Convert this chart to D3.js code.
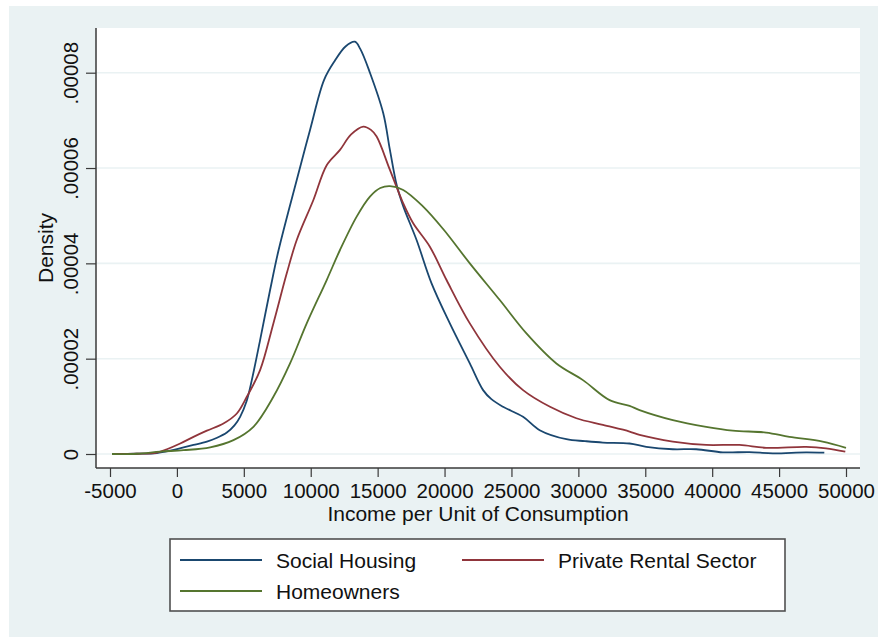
<!DOCTYPE html>
<html>
<head>
<meta charset="utf-8">
<script src="https://cdn.jsdelivr.net/npm/d3@7"></script>
<style>
  html, body { margin: 0; padding: 0; background: #ffffff; }
  svg { display: block; }
  text { font-family: "Liberation Sans", Arial, Helvetica, sans-serif; fill: #111; }
</style>
</head>
<body>
<svg id="chart" width="878" height="637"></svg>
<script>
// ---- Data (income per unit of consumption, kernel density) ----
const socialX = [-4850,-3000,-1500,-500,500,1239,2239,3000,3731,4300,4724,5200,5597,6216,6963,7600,8955,9948,11000,11800,12600,13300,13700,14425,15420,15918,16418,16910,17910,19030,20396,21888,22881,23500,24373,25866,27111,29104,30500,31836,33828,35075,37060,38806,40796,42783,44527,47015,48380];
const socialY = [0.0,0.05,0.2,0.7,1.4,1.9,2.6,3.4,4.5,6.0,7.8,11.0,15.5,23.9,34.4,42.8,57.5,68,78.5,82.5,85.5,86.5,85,80,71.5,63.8,56.5,52,44.9,35.8,27.4,19.0,13.4,11.5,9.9,7.8,5.0,3.1,2.7,2.4,2.2,1.5,1.0,1.0,0.35,0.4,0.15,0.35,0.27].map(v => v * 1e-6);

const privateX = [-4850,-3000,-1500,-746,246,1239,2239,3478,4478,5224,6216,7209,8209,8955,10199,11194,12187,13000,13930,14500,14925,15918,16910,17657,18903,20149,21888,24127,25866,27881,29851,31836,33828,34575,37060,39552,42040,44030,47015,48507,49948];
const privateY = [0.0,0.05,0.3,1.0,2.2,3.6,4.9,6.4,8.5,12.0,17.6,27.4,37.9,44.9,53.3,60.6,63.8,67,68.7,68,66.6,59.6,52.6,48.4,43.5,36.5,27.4,18.3,13.4,9.9,7.5,6.1,4.7,4.0,2.6,1.9,1.9,1.3,1.5,1.2,0.5].map(v => v * 1e-6);

const homeX = [-4850,-3000,-1246,493,2485,4224,5716,7209,8455,9701,11194,12187,13433,14425,15200,15918,16910,18403,19896,21888,24127,26119,28358,30343,32336,33828,34575,37060,39552,41537,44030,45769,48254,50000];
const homeY = [0.0,0.05,0.5,0.8,1.4,2.9,5.7,12.0,19.0,27.4,36.5,42.8,49.8,54.0,55.8,56.2,55.4,51.9,47.2,40.0,32.3,25.3,19.0,15.5,11.3,10.1,9.2,7.1,5.7,4.9,4.5,3.6,2.6,1.3].map(v => v * 1e-6);

const xTicks = [-5000,0,5000,10000,15000,20000,25000,30000,35000,40000,45000,50000];
const yTicks = [0,0.00002,0.00004,0.00006,0.00008];
const yTickLabels = ["0",".00002",".00004",".00006",".00008"];
const seriesNames = ["Social Housing","Private Rental Sector","Homeowners"];
const seriesColors = ["#1a476f","#90353b","#55752f"];
const xTitle = "Income per Unit of Consumption";
const yTitle = "Density";

// ---- Layout ----
const svg = d3.select("#chart");
const plot = { left: 96, right: 860, top: 28, bottom: 468 };

svg.append("rect").attr("x", 9).attr("y", 6).attr("width", 878 - 9).attr("height", 637 - 6)
  .attr("fill", "#eaf2f3");
svg.append("rect").attr("x", plot.left).attr("y", plot.top)
  .attr("width", plot.right - plot.left).attr("height", plot.bottom - plot.top)
  .attr("fill", "#ffffff");

const x = d3.scaleLinear().domain([-5000, 50000]).range([110, 846]);
const y = d3.scaleLinear().domain([0, 0.00008]).range([454, 72.7]);

// grid
svg.append("g").selectAll("line").data(yTicks).join("line")
  .attr("x1", plot.left).attr("x2", plot.right)
  .attr("y1", d => y(d)).attr("y2", d => y(d))
  .attr("stroke", "#eaf2f3").attr("stroke-width", 1.6);

// curves
const series = [
  { xs: socialX, ys: socialY },
  { xs: privateX, ys: privateY },
  { xs: homeX, ys: homeY }
];
const line = d3.line().x(d => x(d[0])).y(d => y(d[1])).curve(d3.curveCatmullRom.alpha(0.5));
series.forEach((s, i) => {
  const pts = s.xs.map((v, j) => [v, s.ys[j]]);
  svg.append("path").datum(pts).attr("d", line)
    .attr("fill", "none").attr("stroke", seriesColors[i])
    .attr("stroke-width", 1.8).attr("stroke-linejoin", "round");
});

// axes
const axisColor = "#3a3a3a";
const xAxis = svg.append("g").attr("transform", `translate(0,${plot.bottom})`)
  .call(d3.axisBottom(x).tickValues(xTicks).tickSize(9).tickPadding(4).tickFormat(d => String(d)));
xAxis.select(".domain").remove();
xAxis.append("line").attr("x1", plot.left).attr("x2", plot.right).attr("y1", 0).attr("y2", 0)
  .attr("stroke", axisColor).attr("stroke-width", 1.5);
xAxis.selectAll(".tick line").attr("stroke", axisColor).attr("stroke-width", 1.2);
xAxis.selectAll(".tick text").attr("font-size", "20.5px").attr("fill", "#111")
  .attr("font-family", "'Liberation Sans', Arial, sans-serif").attr("dy", null).attr("y", 30);

const yAxis = svg.append("g").attr("transform", `translate(${plot.left},0)`)
  .call(d3.axisLeft(y).tickValues(yTicks).tickSize(10).tickFormat((d, i) => yTickLabels[i]));
yAxis.select(".domain").remove();
yAxis.append("line").attr("x1", 0).attr("x2", 0).attr("y1", plot.top).attr("y2", plot.bottom)
  .attr("stroke", axisColor).attr("stroke-width", 1.5);
yAxis.selectAll(".tick line").attr("stroke", axisColor).attr("stroke-width", 1.2);
yAxis.selectAll(".tick text")
  .attr("font-size", "20.5px").attr("fill", "#111")
  .attr("font-family", "'Liberation Sans', Arial, sans-serif")
  .attr("x", null).attr("dy", null)
  .attr("text-anchor", "middle")
  .attr("transform", "translate(-18,0) rotate(-90)");

// titles
svg.append("text").attr("x", (plot.left + plot.right) / 2).attr("y", 521)
  .attr("text-anchor", "middle").attr("font-size", "21px").text(xTitle);
svg.append("text").attr("transform", `translate(53,${(plot.top + plot.bottom) / 2}) rotate(-90)`)
  .attr("text-anchor", "middle").attr("font-size", "21px").text(yTitle);

// legend
const lg = svg.append("g");
lg.append("rect").attr("x", 170).attr("y", 539).attr("width", 615).attr("height", 72)
  .attr("fill", "#ffffff").attr("stroke", "#505050").attr("stroke-width", 1.6);
const legendItems = [
  { i: 0, lx: 180, ly: 560 },
  { i: 1, lx: 462, ly: 560 },
  { i: 2, lx: 180, ly: 591 }
];
legendItems.forEach(it => {
  lg.append("line").attr("x1", it.lx).attr("x2", it.lx + 82).attr("y1", it.ly).attr("y2", it.ly)
    .attr("stroke", seriesColors[it.i]).attr("stroke-width", 1.8);
  lg.append("text").attr("x", it.lx + 96).attr("y", it.ly + 8).attr("font-size", "21px")
    .text(seriesNames[it.i]);
});
</script>
</body>
</html>
